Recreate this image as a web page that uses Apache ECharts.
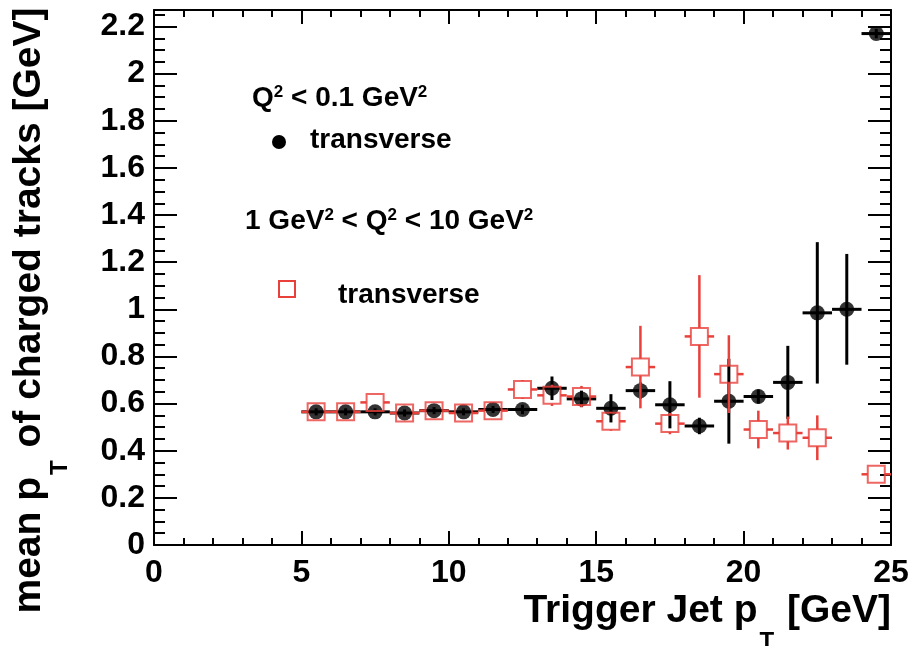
<!DOCTYPE html>
<html><head><meta charset="utf-8">
<script src="https://cdn.jsdelivr.net/npm/echarts@6/dist/echarts.min.js"></script>
<style>html,body{margin:0;padding:0;background:#fff}#c{width:912px;height:646px}</style>
</head><body><div id="c"></div>
<script>
// bin centres of trigger jet pT [GeV]
const binCenters = [5.5,6.5,7.5,8.5,9.5,10.5,11.5,12.5,13.5,14.5,15.5,16.5,17.5,18.5,19.5,20.5,21.5,22.5,23.5,24.5];
const binHalfWidth = 0.5;
// Q^2 < 0.1 GeV^2, transverse
const photoMean = [0.565,0.565,0.565,0.56,0.57,0.565,0.575,0.575,0.665,0.62,0.58,0.655,0.595,0.505,0.61,0.63,0.69,0.985,1.0,2.17];
const photoErr  = [0.015,0.015,0.015,0.015,0.015,0.015,0.015,0.02,0.05,0.035,0.06,0.035,0.1,0.035,0.18,0.03,0.155,0.3,0.235,0.02];
// 1 GeV^2 < Q^2 < 10 GeV^2, transverse
const disMean = [0.565,0.565,0.605,0.56,0.57,0.56,0.57,0.66,0.635,0.63,0.525,0.755,0.515,0.885,0.725,0.49,0.475,0.455,null,0.30];
const disErr  = [0.01,0.01,0.015,0.015,0.015,0.015,0.015,0.04,0.045,0.045,0.04,0.175,0.045,0.26,0.165,0.08,0.07,0.095,null,0.02];
const xTicks = [0,5,10,15,20,25];
const yTicks = [0,0.2,0.4,0.6,0.8,1,1.2,1.4,1.6,1.8,2,2.2];

const FONT = '"Liberation Sans", Arial, Helvetica, sans-serif';
const RED = '#e8403a';

function pts(mean, err) {
  const out = [];
  binCenters.forEach((x, i) => { if (mean[i] != null) out.push([x, mean[i], err[i]]); });
  return out;
}

function errRender(color, gap, width) {
  return function (params, api) {
    const x = api.value(0), y = api.value(1), e = api.value(2);
    const c = api.coord([x, y]);
    const l = api.coord([x - binHalfWidth, y]);
    const r = api.coord([x + binHalfWidth, y]);
    const t = api.coord([x, y + e]);
    const b = api.coord([x, y - e]);
    const st = { stroke: color, lineWidth: width };
    const kids = [];
    const seg = (x1, y1, x2, y2) => kids.push({ type: 'line', shape: { x1, y1, x2, y2 }, style: st });
    if (c[0] - gap > l[0]) seg(l[0], c[1], c[0] - gap, c[1]);
    if (r[0] > c[0] + gap) seg(c[0] + gap, c[1], r[0], c[1]);
    if (t[1] < c[1] - gap) seg(c[0], t[1], c[0], c[1] - gap);
    if (b[1] > c[1] + gap) seg(c[0], c[1] + gap, c[0], b[1]);
    return { type: 'group', children: kids };
  };
}

const labelStyle = { fontFamily: FONT, fontWeight: 'bold', fontSize: 32, color: '#000' };
const nameRich = {
  a: { fontFamily: FONT, fontWeight: 'bold', fontSize: 39, color: '#000', lineHeight: 44, verticalAlign: 'top' },
  s: { fontFamily: FONT, fontWeight: 'bold', fontSize: 24, color: '#000', lineHeight: 24, verticalAlign: 'top', padding: [38, 2, 0, 2] }
};
const legRich = {
  a: { fontFamily: FONT, fontWeight: 'bold', fontSize: 28, color: '#000', lineHeight: 32, verticalAlign: 'top' },
  p: { fontFamily: FONT, fontWeight: 'bold', fontSize: 17, color: '#000', lineHeight: 14, verticalAlign: 'top' }
};

const chart = echarts.init(document.getElementById('c'), null, { renderer: 'canvas' });
const axisLine = { show: true, onZero: false, lineStyle: { color: '#000', width: 2 } };

chart.setOption({
  animation: false,
  backgroundColor: '#fff',
  grid: { left: 154, right: 21, top: 10, bottom: 101, containLabel: false, outerBoundsMode: 'none' },
  xAxis: [
    {
      type: 'value', position: 'bottom', min: xTicks[0], max: xTicks[xTicks.length - 1], interval: 5,
      axisLine, splitLine: { show: false },
      axisTick: { inside: true, length: 14, lineStyle: { color: '#000', width: 2 } },
      minorTick: { show: true, splitNumber: 5, length: 7, lineStyle: { color: '#000', width: 2 } },
      axisLabel: Object.assign({ margin: 12 }, labelStyle),
      name: '{a|Trigger Jet p}{s|T}{a| [GeV]}',
      nameLocation: 'end', nameGap: 0, nameMoveOverlap: false,
      nameTextStyle: { align: 'right', verticalAlign: 'top', padding: [47, 0, 0, 0], rich: nameRich }
    },
    {
      type: 'value', position: 'top', min: xTicks[0], max: xTicks[xTicks.length - 1], interval: 5,
      axisLine, splitLine: { show: false },
      axisTick: { inside: true, length: 14, lineStyle: { color: '#000', width: 2 } },
      minorTick: { show: true, splitNumber: 5, length: 7, lineStyle: { color: '#000', width: 2 } },
      axisLabel: { show: false }
    }
  ],
  yAxis: [
    {
      type: 'value', position: 'left', min: 0, max: 2.27, interval: 0.2,
      axisLine, splitLine: { show: false },
      axisTick: { inside: true, length: 23, lineStyle: { color: '#000', width: 2 } },
      minorTick: { show: true, splitNumber: 4, length: 11, lineStyle: { color: '#000', width: 2 } },
      axisLabel: Object.assign({ margin: 9, showMaxLabel: false,
        formatter: v => (yTicks.some(t => Math.abs(t - v) < 1e-6) ? String(Math.round(v * 10) / 10) : '') }, labelStyle),
      name: '{a|mean p}{s|T}{a| of charged tracks [GeV]}',
      nameLocation: 'middle', nameRotate: 90, nameGap: 100, nameMoveOverlap: false,
      nameTextStyle: { padding: [0, 66, 0, 0], rich: nameRich }
    },
    {
      type: 'value', position: 'right', min: 0, max: 2.27, interval: 0.2,
      axisLine, splitLine: { show: false },
      axisTick: { inside: true, length: 23, lineStyle: { color: '#000', width: 2 } },
      minorTick: { show: true, splitNumber: 4, length: 11, lineStyle: { color: '#000', width: 2 } },
      axisLabel: { show: false }
    }
  ],
  series: [
    { type: 'custom', name: 'photo-err', coordinateSystem: 'cartesian2d', renderItem: errRender('#000', 0, 3),
      data: pts(photoMean, photoErr), encode: { x: 0, y: 1 }, clip: true, z: 2 },
    { type: 'scatter', name: 'Q2 < 0.1 transverse', data: pts(photoMean, photoErr), symbol: 'circle', symbolSize: 15,
      itemStyle: { color: '#000' }, z: 3 },
    { type: 'custom', name: 'dis-err', coordinateSystem: 'cartesian2d', renderItem: errRender(RED, 8.5, 2.5),
      data: pts(disMean, disErr), encode: { x: 0, y: 1 }, clip: true, z: 4 },
    { type: 'scatter', name: '1 < Q2 < 10 transverse', data: pts(disMean, disErr), symbol: 'rect', symbolSize: 17,
      itemStyle: { color: 'rgba(0,0,0,0)', borderColor: RED, borderWidth: 2 }, z: 5 }
  ],
  graphic: [
    { type: 'text', left: 252, top: 84, style: { text: '{a|Q}{p|2}{a| < 0.1 GeV}{p|2}', rich: legRich } },
    { type: 'circle', shape: { cx: 279, cy: 142, r: 7 }, style: { fill: '#000' } },
    { type: 'text', left: 310, top: 126, style: { text: '{a|transverse}', rich: legRich } },
    { type: 'text', left: 245, top: 207, style: { text: '{a|1 GeV}{p|2}{a| < Q}{p|2}{a| < 10 GeV}{p|2}', rich: legRich } },
    { type: 'rect', shape: { x: 279, y: 281, width: 16, height: 16 }, style: { fill: 'none', stroke: RED, lineWidth: 2 } },
    { type: 'text', left: 338, top: 281, style: { text: '{a|transverse}', rich: legRich } }
  ]
});
</script>
</body></html>
